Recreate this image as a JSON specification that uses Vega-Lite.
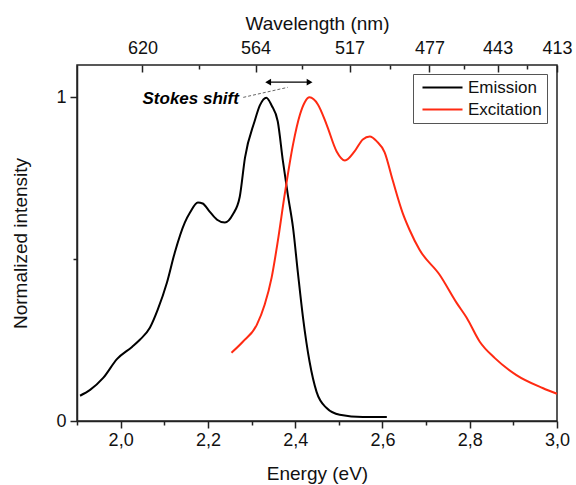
{
  "$schema": "https://vega.github.io/schema/vega-lite/v6.json",
  "width": 480,
  "height": 356,
  "autosize": {"type": "none"},
  "padding": {"left": 77, "top": 65, "right": 19, "bottom": 64},
  "background": "white",
  "config": {
    "font": "Liberation Sans",
    "view": {"stroke": "#222222", "strokeWidth": 1.5},
    "axis": {
      "grid": false,
      "domainColor": "#222222",
      "domainWidth": 1.5,
      "tickColor": "#222222",
      "tickWidth": 1.5,
      "labelColor": "#111111",
      "titleColor": "#111111",
      "labelFont": "Liberation Sans",
      "titleFont": "Liberation Sans",
      "labelFontSize": 18,
      "titleFontSize": 19,
      "titleFontWeight": "normal"
    }
  },
  "datasets": {
    "spectra": [
      {"E": 1.907, "I": 0.078, "series": "Emission"},
      {"E": 1.930, "I": 0.096, "series": "Emission"},
      {"E": 1.960, "I": 0.133, "series": "Emission"},
      {"E": 1.992, "I": 0.192, "series": "Emission"},
      {"E": 2.026, "I": 0.229, "series": "Emission"},
      {"E": 2.044, "I": 0.251, "series": "Emission"},
      {"E": 2.067, "I": 0.288, "series": "Emission"},
      {"E": 2.085, "I": 0.344, "series": "Emission"},
      {"E": 2.106, "I": 0.427, "series": "Emission"},
      {"E": 2.124, "I": 0.520, "series": "Emission"},
      {"E": 2.147, "I": 0.613, "series": "Emission"},
      {"E": 2.159, "I": 0.644, "series": "Emission"},
      {"E": 2.177, "I": 0.675, "series": "Emission"},
      {"E": 2.188, "I": 0.672, "series": "Emission"},
      {"E": 2.204, "I": 0.647, "series": "Emission"},
      {"E": 2.221, "I": 0.622, "series": "Emission"},
      {"E": 2.239, "I": 0.613, "series": "Emission"},
      {"E": 2.257, "I": 0.638, "series": "Emission"},
      {"E": 2.273, "I": 0.693, "series": "Emission"},
      {"E": 2.285, "I": 0.814, "series": "Emission"},
      {"E": 2.307, "I": 0.926, "series": "Emission"},
      {"E": 2.319, "I": 0.975, "series": "Emission"},
      {"E": 2.334, "I": 0.999, "series": "Emission"},
      {"E": 2.346, "I": 0.975, "series": "Emission"},
      {"E": 2.360, "I": 0.926, "series": "Emission"},
      {"E": 2.372, "I": 0.802, "series": "Emission"},
      {"E": 2.383, "I": 0.700, "series": "Emission"},
      {"E": 2.395, "I": 0.598, "series": "Emission"},
      {"E": 2.406, "I": 0.461, "series": "Emission"},
      {"E": 2.418, "I": 0.319, "series": "Emission"},
      {"E": 2.433, "I": 0.183, "series": "Emission"},
      {"E": 2.449, "I": 0.090, "series": "Emission"},
      {"E": 2.472, "I": 0.040, "series": "Emission"},
      {"E": 2.502, "I": 0.019, "series": "Emission"},
      {"E": 2.555, "I": 0.012, "series": "Emission"},
      {"E": 2.610, "I": 0.012, "series": "Emission"},
      {"E": 2.254, "I": 0.211, "series": "Excitation"},
      {"E": 2.280, "I": 0.245, "series": "Excitation"},
      {"E": 2.312, "I": 0.297, "series": "Excitation"},
      {"E": 2.330, "I": 0.359, "series": "Excitation"},
      {"E": 2.346, "I": 0.443, "series": "Excitation"},
      {"E": 2.360, "I": 0.554, "series": "Excitation"},
      {"E": 2.376, "I": 0.700, "series": "Excitation"},
      {"E": 2.395, "I": 0.854, "series": "Excitation"},
      {"E": 2.411, "I": 0.947, "series": "Excitation"},
      {"E": 2.422, "I": 0.985, "series": "Excitation"},
      {"E": 2.433, "I": 1.000, "series": "Excitation"},
      {"E": 2.452, "I": 0.978, "series": "Excitation"},
      {"E": 2.472, "I": 0.916, "series": "Excitation"},
      {"E": 2.495, "I": 0.833, "series": "Excitation"},
      {"E": 2.514, "I": 0.805, "series": "Excitation"},
      {"E": 2.536, "I": 0.833, "series": "Excitation"},
      {"E": 2.555, "I": 0.870, "series": "Excitation"},
      {"E": 2.571, "I": 0.879, "series": "Excitation"},
      {"E": 2.587, "I": 0.864, "series": "Excitation"},
      {"E": 2.605, "I": 0.830, "series": "Excitation"},
      {"E": 2.623, "I": 0.746, "series": "Excitation"},
      {"E": 2.646, "I": 0.644, "series": "Excitation"},
      {"E": 2.662, "I": 0.591, "series": "Excitation"},
      {"E": 2.685, "I": 0.529, "series": "Excitation"},
      {"E": 2.731, "I": 0.452, "series": "Excitation"},
      {"E": 2.770, "I": 0.365, "series": "Excitation"},
      {"E": 2.793, "I": 0.319, "series": "Excitation"},
      {"E": 2.823, "I": 0.245, "series": "Excitation"},
      {"E": 2.857, "I": 0.195, "series": "Excitation"},
      {"E": 2.907, "I": 0.142, "series": "Excitation"},
      {"E": 2.967, "I": 0.102, "series": "Excitation"},
      {"E": 3.000, "I": 0.084, "series": "Excitation"}
    ],
    "label": [{"E": 2.271, "I": 0.994, "text": "Stokes shift"}],
    "leader": [{"E1": 2.281, "I1": 1.0, "E2": 2.383, "I2": 1.031}],
    "arrow": [{"E1": 2.338, "E2": 2.433, "I": 1.047}],
    "wavelength": [{"wl": 652.6}, {"wl": 413.3}]
  },
  "layer": [
    {
      "data": {"name": "spectra"},
      "mark": {"type": "line", "strokeWidth": 2, "interpolate": "monotone"},
      "encoding": {
        "x": {
          "field": "E", "type": "quantitative",
          "scale": {"domain": [1.9, 3.0], "nice": false, "zero": false},
          "axis": {
            "orient": "bottom",
            "title": "Energy (eV)",
            "values": [2.0, 2.2, 2.4, 2.6, 2.8, 3.0],
            "labelExpr": "replace(format(datum.value, '.1f'), '.', ',')",
            "tickSize": 7,
            "labelPadding": 3,
            "titlePadding": 15,
            "labelFlush": false
          }
        },
        "y": {
          "field": "I", "type": "quantitative",
          "scale": {"domain": [0, 1.1], "nice": false, "zero": false},
          "axis": {
            "title": "Normalized intensity",
            "values": [0, 0.5, 1],
            "labelExpr": "datum.value == 0.5 ? '' : format(datum.value, 'd')",
            "tickSize": {"condition": {"test": "datum.value == 0.5", "value": 4}, "value": 7},
            "labelPadding": 4,
            "titlePadding": 25
          }
        },
        "color": {
          "field": "series", "type": "nominal",
          "scale": {"domain": ["Emission", "Excitation"], "range": ["#000000", "#ff2a12"]},
          "legend": {
            "title": null,
            "orient": "none",
            "legendX": 336,
            "legendY": 9,
            "strokeColor": "#555555",
            "fillColor": "white",
            "padding": 5,
            "symbolType": "M-3,0H3",
            "symbolSize": 178,
            "symbolOffset": 16,
            "symbolStrokeWidth": 2,
            "labelFont": "Liberation Sans",
            "labelFontSize": 17,
            "labelColor": "#111111",
            "rowPadding": 4,
            "labelOffset": 17
          }
        }
      }
    },
    {
      "data": {"name": "label"},
      "mark": {"type": "text", "align": "right", "baseline": "middle", "fontSize": 17, "fontStyle": "italic", "fontWeight": "bold", "font": "Liberation Sans", "color": "#000000"},
      "encoding": {
        "x": {
          "field": "E", "type": "quantitative",
          "scale": {"domain": [1.9, 3.0], "nice": false, "zero": false},
          "axis": {
            "orient": "bottom",
            "title": null,
            "values": [1.9, 2.1, 2.3, 2.5, 2.7, 2.9],
            "labels": false,
            "domain": false,
            "tickSize": 4
          }
        },
        "y": {"field": "I", "type": "quantitative"},
        "text": {"field": "text"}
      }
    },
    {
      "data": {"name": "leader"},
      "mark": {"type": "rule", "strokeDash": [3, 2], "strokeWidth": 1, "color": "#666666"},
      "encoding": {
        "x": {"field": "E1", "type": "quantitative", "scale": {"domain": [1.9, 3.0], "nice": false, "zero": false}, "axis": null},
        "x2": {"field": "E2"},
        "y": {"field": "I1", "type": "quantitative"},
        "y2": {"field": "I2"}
      }
    },
    {
      "data": {"name": "arrow"},
      "mark": {"type": "rule", "strokeWidth": 1.2, "color": "#000000"},
      "encoding": {
        "x": {"field": "E1", "type": "quantitative", "scale": {"domain": [1.9, 3.0], "nice": false, "zero": false}, "axis": null},
        "x2": {"field": "E2"},
        "y": {"field": "I", "type": "quantitative"}
      }
    },
    {
      "data": {"name": "arrow"},
      "mark": {"type": "point", "shape": "triangle-left", "filled": true, "size": 45, "color": "#000000", "opacity": 1},
      "encoding": {
        "x": {"field": "E1", "type": "quantitative", "scale": {"domain": [1.9, 3.0], "nice": false, "zero": false}, "axis": null},
        "y": {"field": "I", "type": "quantitative"}
      }
    },
    {
      "data": {"name": "arrow"},
      "mark": {"type": "point", "shape": "triangle-right", "filled": true, "size": 45, "color": "#000000", "opacity": 1},
      "encoding": {
        "x": {"field": "E2", "type": "quantitative", "scale": {"domain": [1.9, 3.0], "nice": false, "zero": false}, "axis": null},
        "y": {"field": "I", "type": "quantitative"}
      }
    },
    {
      "data": {"name": "wavelength"},
      "mark": {"type": "point", "opacity": 0},
      "encoding": {
        "x": {
          "field": "wl", "type": "quantitative",
          "scale": {"domain": [413.3, 652.6], "reverse": true, "nice": false, "zero": false},
          "axis": {
            "orient": "top",
            "title": "Wavelength (nm)",
            "values": [620, 563.6, 516.7, 476.9, 442.9, 413.3],
            "labelExpr": "format(datum.value, '.0f')",
            "offset": -7,
            "domain": false,
            "tickSize": 7,
            "labelPadding": 7.5,
            "titlePadding": 6,
            "labelFlush": false
          }
        }
      }
    },
    {
      "data": {"name": "wavelength"},
      "mark": {"type": "point", "opacity": 0},
      "encoding": {
        "x": {
          "field": "wl", "type": "quantitative",
          "scale": {"domain": [413.3, 652.6], "reverse": true, "nice": false, "zero": false},
          "axis": {
            "orient": "top",
            "title": null,
            "values": [592, 540.2, 496.8, 459.9, 428.1],
            "labels": false,
            "offset": -4,
            "domain": false,
            "tickSize": 4
          }
        }
      }
    }
  ],
  "resolve": {"scale": {"x": "independent"}, "axis": {"x": "independent"}}
}
